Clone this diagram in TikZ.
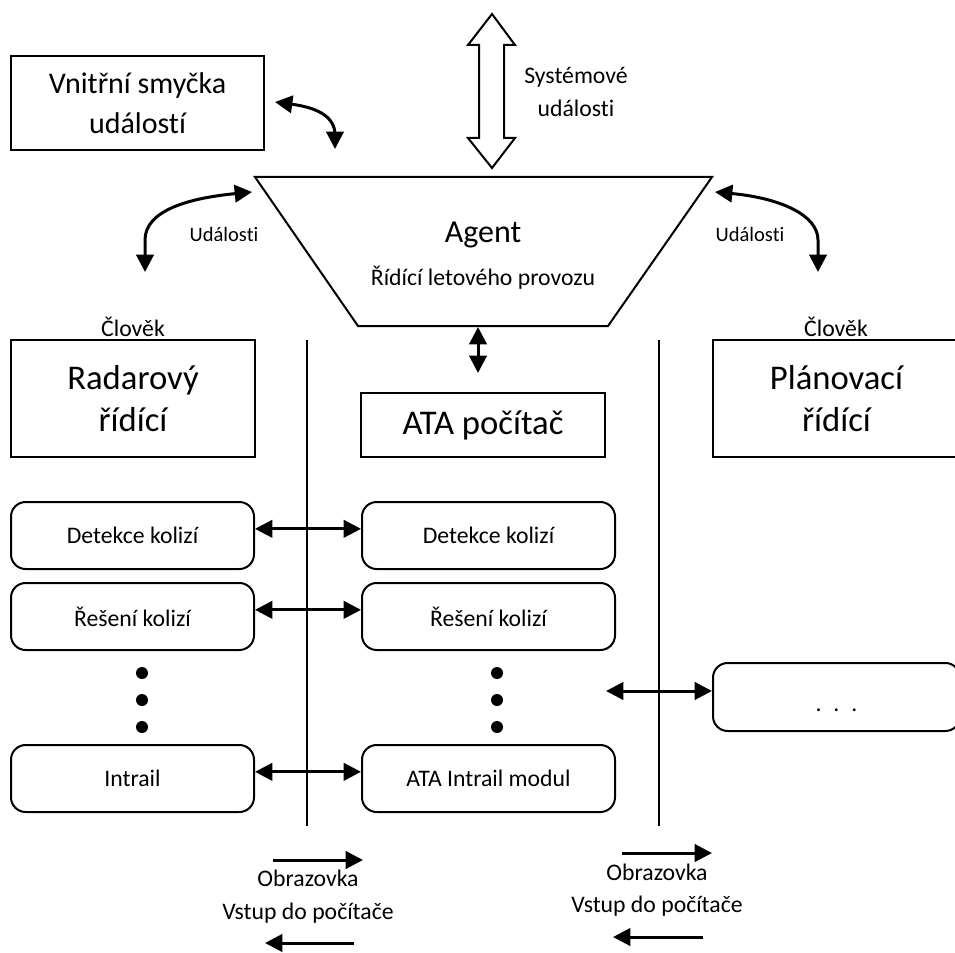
\documentclass[tikz,border=0pt]{standalone}
\usepackage{fontspec}
\setmainfont{Carlito}[Ligatures=NoCommon]
\usetikzlibrary{arrows.meta}

\tikzset{every picture/.style={line width=0.75pt}}
\tikzset{
  boxnode/.style={draw, line width=1.5pt, inner sep=0pt, align=center},
  roundnode/.style={boxnode, rounded corners=11pt},
  hugetext/.style={font=\fontsize{26}{31.5}\selectfont},
  bigtext/.style={font=\fontsize{22.5}{30}\selectfont},
  plaintext/.style={font=\fontsize{17.8}{24.75}\selectfont, inner sep=0pt},
  smalltext/.style={font=\fontsize{15.4}{18}\selectfont, inner sep=0pt},
  biarrow/.style={line width=2.25pt, {Triangle[length=13pt,width=13pt]}-{Triangle[length=13pt,width=13pt]}},
  onearrow/.style={line width=2.25pt, -{Triangle[length=13pt,width=13pt]}},
}

\begin{document}
\begin{tikzpicture}[x=0.75pt,y=0.75pt,yscale=-1,xscale=1]
\useasboundingbox (0,0) rectangle (955,952);

%Shape: Rectangle
\draw (137.5,103) node [boxnode, bigtext, minimum width=189.75pt, minimum height=70.5pt] (loop) {Vnitřní smyčka\\událostí};

%Shape: Trapezoid
\coordinate (agtl) at (255,177);
\coordinate (agtr) at (712,177);
\coordinate (agbr) at (608,326);
\coordinate (agbl) at (358,326);
\draw [line width=1.5pt] (agtl) -- (agtr) -- (agbr) -- (agbl) -- cycle;
% Text Node
\draw (483,235) node [font=\fontsize{24}{28}\selectfont, inner sep=0pt] (agent) {Agent};
% Text Node
\draw (483,278) node [plaintext] (agentrole) {Řídící letového provozu};

%Shape: Up Down Arrow
\draw [line width=1.5pt, fill=white] (492,14) -- (515,45) -- (504,45) -- (504,138) -- (515,138) -- (492,168) -- (468,138) -- (479,138) -- (479,45) -- (468,45) -- cycle;
% Text Node
\draw (576,91.5) node [plaintext, align=center] (sysev) {Systémové\\události};

%Curve Lines
\coordinate (loopin) at (275,102);
\coordinate (agin) at (335,149);
\draw [biarrow] (loopin) .. controls (320,108) and (335,118) .. (335,135) -- (agin);
%Curve Lines
\coordinate (agl) at (252,192);
\coordinate (radarin) at (145,272);
\draw [biarrow] (agl) .. controls (190,198) and (145,210) .. (145,240) -- (radarin);
%Curve Lines
\coordinate (agr) at (715,192);
\coordinate (planin) at (818,272);
\draw [biarrow] (agr) .. controls (780,198) and (818,215) .. (818,240) -- (planin);
% Text Node
\draw (224,234) node [smalltext] (evl) {Události};
% Text Node
\draw (750,234) node [smalltext] (evr) {Události};

% Text Node
\draw (133,327) node [plaintext] (humanl) {Člověk};
% Text Node
\draw (836,327) node [plaintext] (humanr) {Člověk};

%Shape: Rectangle
\draw (133,398.5) node [boxnode, hugetext, minimum width=183pt, minimum height=87.75pt] (radar) {Radarový\\řídící};
%Shape: Rectangle
\draw (836.5,398.5) node [boxnode, hugetext, minimum width=185.25pt, minimum height=87.75pt] (plan) {Plánovací\\řídící};
%Shape: Rectangle
\draw (483,425) node [boxnode, hugetext, minimum width=183pt, minimum height=48pt] (ata) {ATA počítač};

%Straight Lines
\coordinate (agbot) at (478,327);
\coordinate (atatop) at (478,373);
\draw [biarrow] (agbot) -- (atatop);

%Straight Lines
\draw [line width=1.5pt] (307,340) -- (307,826);
%Straight Lines
\draw [line width=1.5pt] (659,340) -- (659,826);

%Rounded Rect
\draw (132.5,535.5) node [roundnode, plaintext, minimum width=182.25pt, minimum height=50.25pt] (detl) {Detekce kolizí};
\draw (488.5,535.5) node [roundnode, plaintext, minimum width=189.75pt, minimum height=50.25pt] (detc) {Detekce kolizí};
%Rounded Rect
\draw (132.5,616.5) node [roundnode, plaintext, minimum width=182.25pt, minimum height=50.25pt] (resl) {Řešení kolizí};
\draw (488.5,616.5) node [roundnode, plaintext, minimum width=189.75pt, minimum height=50.25pt] (resc) {Řešení kolizí};
%Rounded Rect
\draw (132.5,778.5) node [roundnode, plaintext, minimum width=182.25pt, minimum height=50.25pt] (intl) {Intrail};
\draw (488.5,778.5) node [roundnode, plaintext, minimum width=189.75pt, minimum height=50.25pt] (intc) {ATA Intrail modul};
%Rounded Rect
\draw (836.5,697) node [roundnode, plaintext, minimum width=185.25pt, minimum height=51pt, text height=25pt, text depth=4pt] (more) {.\hspace{9pt}.\hspace{9pt}.};

%Straight Lines
\draw [biarrow] ([yshift=-5pt]detl.east) -- ([yshift=-5pt]detc.west);
\draw [biarrow] ([yshift=-5pt]resl.east) -- ([yshift=-5pt]resc.west);
\draw [biarrow] ([yshift=-5pt]intl.east) -- ([yshift=-5pt]intc.west);
\coordinate (pick) at (606,691);
\draw [biarrow] (pick) -- ([yshift=-4.5pt]more.west);

%Dots
\fill (142,673) circle (4.5pt);
\fill (142,700) circle (4.5pt);
\fill (142,727) circle (4.5pt);
\fill (497,673) circle (4.5pt);
\fill (497,700) circle (4.5pt);
\fill (497,727) circle (4.5pt);

% Text Node
\draw (308,878) node [plaintext] (scrl) {Obrazovka};
% Text Node
\draw (308,913) node [plaintext] (inpl) {Vstup do počítače};
% Text Node
\draw (657,872) node [plaintext] (scrr) {Obrazovka};
% Text Node
\draw (657,906) node [plaintext] (inpr) {Vstup do počítače};

%Straight Lines
\coordinate (scrla) at (273,860);
\coordinate (scrlb) at (363,860);
\draw [onearrow] (scrla) -- (scrlb);
\coordinate (inpla) at (354,943);
\coordinate (inplb) at (265,943);
\draw [onearrow] (inpla) -- (inplb);
\coordinate (scrra) at (622,853);
\coordinate (scrrb) at (712,853);
\draw [onearrow] (scrra) -- (scrrb);
\coordinate (inpra) at (703,937);
\coordinate (inprb) at (613,937);
\draw [onearrow] (inpra) -- (inprb);

\end{tikzpicture}
\end{document}
